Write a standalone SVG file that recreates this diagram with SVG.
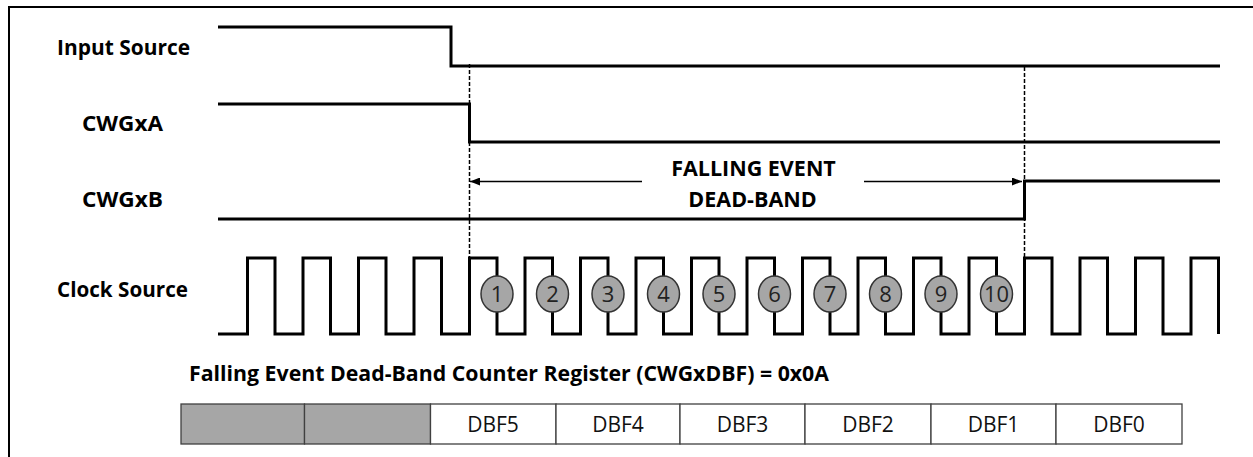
<svg xmlns="http://www.w3.org/2000/svg" width="1253" height="457" viewBox="0 0 1253 457">
  <defs>
    <style>
      .lbl { font-family: "Open Sans", "Liberation Sans", sans-serif; font-weight: 700; font-size: 21px; fill: #000; }
      .band { font-family: "Open Sans", "Liberation Sans", sans-serif; font-weight: 700; font-size: 21.5px; fill: #000; text-anchor: middle; }
      .num { font-family: "Open Sans", "Liberation Sans", sans-serif; font-size: 22px; fill: #222; text-anchor: middle; }
      .cell-t { font-family: "Open Sans", "Liberation Sans", sans-serif; font-size: 21px; fill: #111; text-anchor: middle; }
      .sig { fill: none; stroke: #000; stroke-width: 3; stroke-linejoin: miter; }
      .guide { fill: none; stroke: #000; stroke-width: 1.5; stroke-dasharray: 4 2; }
      .dim { fill: none; stroke: #000; stroke-width: 1.3; }
      .tick { fill: #a6a6a6; stroke: #333; stroke-width: 1.5; }
      .cell { stroke: #404040; stroke-width: 1.3; }
    </style>
    <marker id="head" viewBox="0 0 10 8" refX="10" refY="4" markerWidth="10" markerHeight="8" markerUnits="userSpaceOnUse" orient="auto">
      <path d="M0,0 L10,4 L0,8 Z" fill="#000"/>
    </marker>
  </defs>

  <rect x="0" y="0" width="1253" height="457" fill="#fff"/>
  <!-- outer frame -->
  <rect x="9" y="7" width="1270" height="480" fill="none" stroke="#000" stroke-width="2"/>

  <!-- signal labels -->
  <g id="label-input">
    <text class="lbl" x="57" y="55" textLength="133" lengthAdjust="spacingAndGlyphs">Input Source</text>
  </g>
  <g id="label-cwgxa">
    <text class="lbl" x="82" y="131" textLength="81" lengthAdjust="spacingAndGlyphs">CWGxA</text>
  </g>
  <g id="label-cwgxb">
    <text class="lbl" x="82" y="207" textLength="81" lengthAdjust="spacingAndGlyphs">CWGxB</text>
  </g>
  <g id="label-clock">
    <text class="lbl" x="57" y="297" textLength="131" lengthAdjust="spacingAndGlyphs">Clock Source</text>
  </g>

  <!-- waveforms -->
  <g id="wave-input">
    <path class="sig" d="M218,27 H451 V66 H1220"/>
  </g>
  <g id="wave-cwgxa">
    <path class="sig" d="M218,104 H469.5 V142 H1220"/>
  </g>
  <g id="wave-cwgxb">
    <path class="sig" d="M218,219 H1024.5 V181 H1220"/>
  </g>
  <g id="wave-clock">
    <path class="sig" d="M218,334
      H247.5 V258 H275 V334
      H303 V258 H330.5 V334
      H358.5 V258 H386 V334
      H414 V258 H441.5 V334
      H469.5 V258 H497 V334
      H525 V258 H552.5 V334
      H580.5 V258 H608 V334
      H636 V258 H663.5 V334
      H691.5 V258 H719 V334
      H747 V258 H774.5 V334
      H802.5 V258 H830 V334
      H858 V258 H885.5 V334
      H913.5 V258 H941 V334
      H969 V258 H996.5 V334
      H1024.5 V258 H1052 V334
      H1080 V258 H1107.5 V334
      H1135.5 V258 H1163 V334
      H1191 V258 H1218.5 V334"/>
  </g>

  <!-- guides and dead-band dimension -->
  <g id="connectors">
    <line class="guide" x1="469.5" y1="64" x2="469.5" y2="258"/>
    <line class="guide" x1="1024.5" y1="67" x2="1024.5" y2="258"/>
    <line class="dim" x1="642" y1="181.5" x2="470" y2="181.5" marker-end="url(#head)"/>
    <line class="dim" x1="864" y1="181.5" x2="1022" y2="181.5" marker-end="url(#head)"/>
  </g>

  <g id="deadband-label">
    <text class="band" x="753.5" y="176">FALLING EVENT</text>
    <text class="band" x="752.5" y="206.5">DEAD-BAND</text>
  </g>

  <!-- counter ticks on falling clock edges -->
  <g id="ticks">
    <ellipse class="tick" cx="497" cy="294" rx="16" ry="18"/><text class="num" x="497" y="302">1</text>
    <ellipse class="tick" cx="552.5" cy="294" rx="16" ry="18"/><text class="num" x="552.5" y="302">2</text>
    <ellipse class="tick" cx="608" cy="294" rx="16" ry="18"/><text class="num" x="608" y="302">3</text>
    <ellipse class="tick" cx="663.5" cy="294" rx="16" ry="18"/><text class="num" x="663.5" y="302">4</text>
    <ellipse class="tick" cx="719" cy="294" rx="16" ry="18"/><text class="num" x="719" y="302">5</text>
    <ellipse class="tick" cx="774.5" cy="294" rx="16" ry="18"/><text class="num" x="774.5" y="302">6</text>
    <ellipse class="tick" cx="830" cy="294" rx="16" ry="18"/><text class="num" x="830" y="302">7</text>
    <ellipse class="tick" cx="885.5" cy="294" rx="16" ry="18"/><text class="num" x="885.5" y="302">8</text>
    <ellipse class="tick" cx="941" cy="294" rx="16" ry="18"/><text class="num" x="941" y="302">9</text>
    <ellipse class="tick" cx="996.5" cy="294" rx="16" ry="18"/><text class="num" x="996.5" y="302" textLength="25" lengthAdjust="spacingAndGlyphs">10</text>
  </g>

  <!-- register layout -->
  <g id="register-title">
    <text class="lbl" x="189" y="381" textLength="640" lengthAdjust="spacingAndGlyphs">Falling Event Dead-Band Counter Register (CWGxDBF) = 0x0A</text>
  </g>
  <g id="register">
    <rect class="cell" x="181" y="404" width="123.5" height="40" fill="#a6a6a6"/>
    <rect class="cell" x="304.5" y="404" width="126" height="40" fill="#a6a6a6"/>
    <rect class="cell" x="430.5" y="404" width="125.5" height="40" fill="#fff"/>
    <rect class="cell" x="556" y="404" width="124" height="40" fill="#fff"/>
    <rect class="cell" x="680" y="404" width="125" height="40" fill="#fff"/>
    <rect class="cell" x="805" y="404" width="126" height="40" fill="#fff"/>
    <rect class="cell" x="931" y="404" width="125" height="40" fill="#fff"/>
    <rect class="cell" x="1056" y="404" width="126" height="40" fill="#fff"/>
    <text class="cell-t" x="493" y="431.5">DBF5</text>
    <text class="cell-t" x="618" y="431.5">DBF4</text>
    <text class="cell-t" x="742.5" y="431.5">DBF3</text>
    <text class="cell-t" x="868" y="431.5">DBF2</text>
    <text class="cell-t" x="993.5" y="431.5">DBF1</text>
    <text class="cell-t" x="1119" y="431.5">DBF0</text>
  </g>
</svg>
